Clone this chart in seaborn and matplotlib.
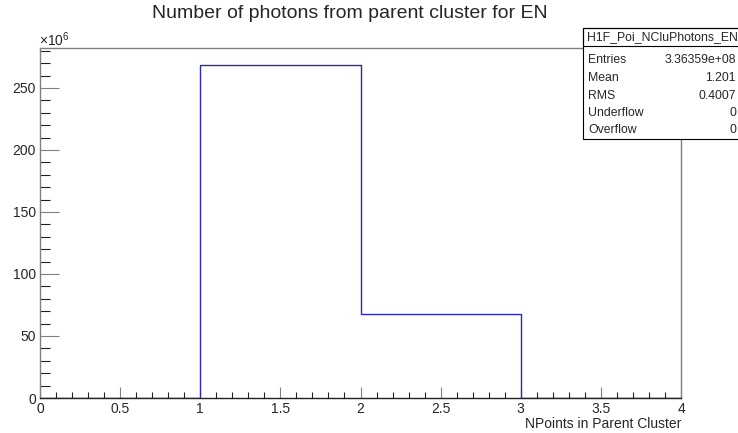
import matplotlib
matplotlib.use("Agg")
import matplotlib.pyplot as plt
from matplotlib.ticker import MultipleLocator, FuncFormatter
from matplotlib.patches import Rectangle
import pandas as pd
import numpy as np
import seaborn as sns

# histogram contents (4 bins of width 1 between 0 and 4)
npoints = [0, 1, 2, 3]
counts = [0, 268.76e6, 67.60e6, 0]
bin_edges = [0, 1, 2, 3, 4]

stat_names = ['Entries', 'Mean', 'RMS', 'Underflow', 'Overflow']
stat_values = ['3.36359e+08', '1.201', '0.4007', '0', '0']
hist_name = 'H1F_Poi_NCluPhotons_EN'

sns.set_style('ticks')
plt.rcParams['font.family'] = ['Liberation Sans', 'DejaVu Sans']
plt.rcParams['mathtext.fontset'] = 'custom'
plt.rcParams['mathtext.rm'] = 'Liberation Sans'

df = pd.DataFrame({'npoints': npoints, 'counts': counts})

fig = plt.figure(figsize=(7.38, 4.33), dpi=100)
ax = fig.add_axes([40/738, 1-398/433, 641/738, 350/433])

sns.histplot(data=df, x='npoints', weights='counts', bins=bin_edges,
             element='step', fill=False, color='#2a2ac0', linewidth=1.0, ax=ax)

ax.set_xlim(0, 4)
ax.set_ylim(0, max(counts)*1.05)
ax.xaxis.set_major_locator(MultipleLocator(0.5))
ax.xaxis.set_minor_locator(MultipleLocator(0.1))
ax.yaxis.set_major_locator(MultipleLocator(50e6))
ax.yaxis.set_minor_locator(MultipleLocator(10e6))
ax.yaxis.set_major_formatter(FuncFormatter(lambda v, p: '%g' % (v/1e6)))
ax.xaxis.set_major_formatter(FuncFormatter(lambda v, p: '%g' % v))

ax.tick_params(axis='y', which='major', direction='in', length=14, width=0.8,
               color='#808080', labelsize=10, pad=3)
ax.tick_params(axis='y', which='minor', direction='in', length=7, width=0.8, color='#222222')
ax.tick_params(axis='x', which='major', direction='in', length=8, width=0.8,
               color='#808080', labelsize=10, pad=3)
ax.tick_params(axis='x', which='minor', direction='in', length=4, width=0.8, color='#222222')

for side in ['left', 'top', 'right']:
    ax.spines[side].set_color('#808080')
    ax.spines[side].set_linewidth(1.0)
ax.spines['bottom'].set_color('#222222')
ax.spines['bottom'].set_linewidth(1.0)

ax.set_xlabel('')
ax.set_ylabel('')
fig.text(681/738, 1-424/433, 'NPoints in Parent Cluster', ha='right', va='center', fontsize=10)
fig.text(39/738, 1-40/433, r'$\times10^{6}$', ha='left', va='center', fontsize=10)
fig.text(350/738, 1-14/433, 'Number of photons from parent cluster for EN',
         ha='center', va='center', fontsize=14)

# stats box
bx0, bx1 = 583/738, 1.02
by_top, by_head, by_bot = 1-28/433, 1-46/433, 1-139/433
fig.patches.append(Rectangle((bx0, by_bot), bx1-bx0, by_top-by_bot, transform=fig.transFigure,
                             facecolor='white', edgecolor='black', linewidth=0.8, zorder=5))
fig.patches.append(Rectangle((bx0, by_head), bx1-bx0, by_top-by_head, transform=fig.transFigure,
                             facecolor='none', edgecolor='black', linewidth=0.8, zorder=6))
fig.text(662/738, (by_top+by_head)/2, hist_name, ha='center', va='center', fontsize=8.8, zorder=7)
row_y = [60, 78, 96, 113, 130]
for name, val, yy in zip(stat_names, stat_values, row_y):
    fig.text(588/738, 1-yy/433, name, ha='left', va='center', fontsize=8.8, zorder=7)
    fig.text(736/738, 1-yy/433, val, ha='right', va='center', fontsize=8.8, zorder=7)

fig.savefig('out.png', dpi=100)
